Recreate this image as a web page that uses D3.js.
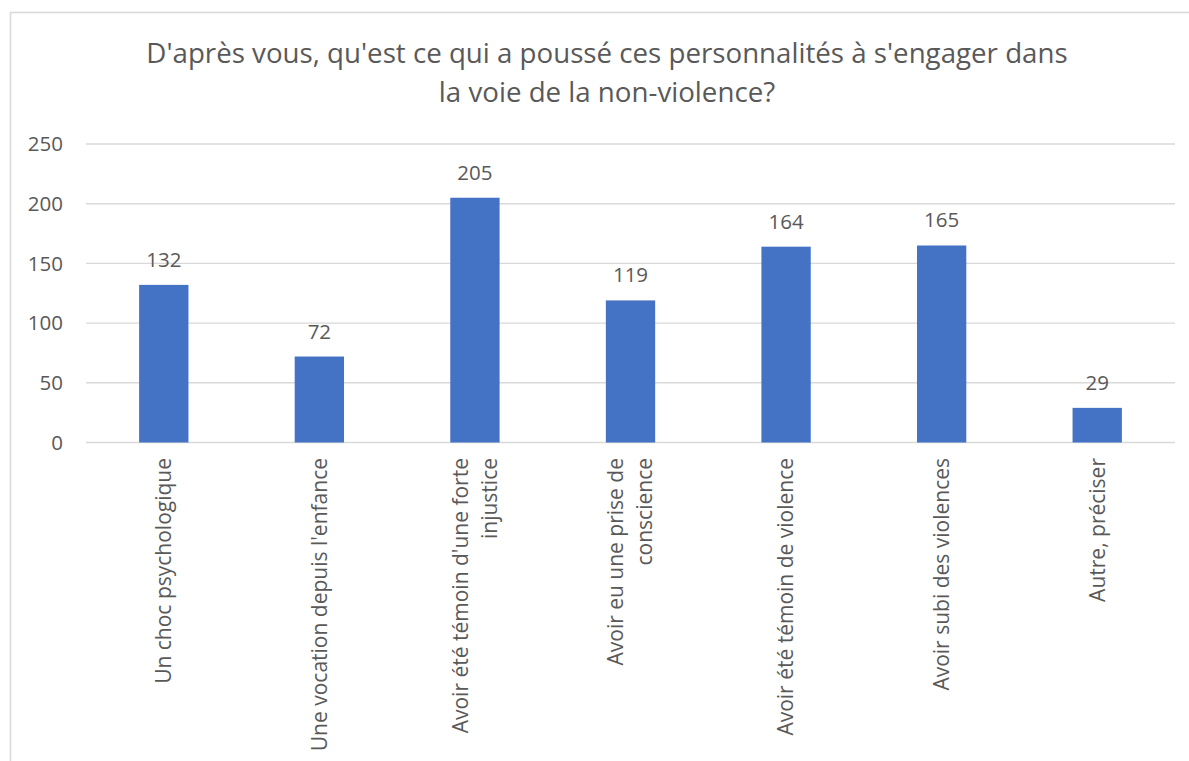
<!DOCTYPE html>
<html>
<head>
<meta charset="utf-8">
<script src="https://cdn.jsdelivr.net/npm/d3@7"></script>
<style>
  html, body { margin: 0; padding: 0; background: #fff; }
  svg { display: block; font-family: "Open Sans", "Noto Sans", sans-serif; }
</style>
</head>
<body>
<script>
const titleLines = ["D'après vous, qu'est ce qui a poussé ces personnalités à s'engager dans", "la voie de la non-violence?"];
const categories = [
  ["Un choc psychologique"],
  ["Une vocation depuis l'enfance"],
  ["Avoir été témoin d'une forte", "injustice"],
  ["Avoir eu une prise de", "conscience"],
  ["Avoir été témoin de violence"],
  ["Avoir subi des violences"],
  ["Autre, préciser"]
];
const values = [132, 72, 205, 119, 164, 165, 29];
const yTicks = [0, 50, 100, 150, 200, 250];

const W = 1189, H = 761;
const textColor = "#595959";
const gridColor = "#D9D9D9";
const barColor = "#4472C4";

const svg = d3.select("body").append("svg").attr("width", W).attr("height", H);

// chart border (extends past right/bottom edge)
svg.append("rect")
  .attr("x", 10.5).attr("y", 12.5)
  .attr("width", 1200).attr("height", 800)
  .attr("fill", "none").attr("stroke", gridColor).attr("stroke-width", 1.6);

// title
svg.append("text")
  .attr("text-anchor", "middle")
  .attr("fill", textColor)
  .style("font-size", "27.7px")
  .selectAll("tspan").data(titleLines).join("tspan")
  .attr("x", 607)
  .attr("y", (d, i) => 63 + i * 39)
  .text(d => d);

const x = d3.scaleBand().domain(d3.range(categories.length)).range([86, 1175]).padding(0);
const y = d3.scaleLinear().domain([0, 250]).range([442.5, 144]);
const barW = x.bandwidth() * 0.317;

// gridlines
svg.append("g").selectAll("line").data(yTicks).join("line")
  .attr("x1", 86).attr("x2", 1175)
  .attr("y1", d => y(d)).attr("y2", d => y(d))
  .attr("stroke", gridColor).attr("stroke-width", 1.4);

// y tick labels
svg.append("g").selectAll("text").data(yTicks).join("text")
  .attr("x", 63).attr("y", d => y(d)).attr("dy", "0.36em")
  .attr("text-anchor", "end").attr("fill", textColor)
  .style("font-size", "20.5px")
  .text(d => d);

// bars
svg.append("g").selectAll("rect").data(values).join("rect")
  .attr("x", (d, i) => x(i) + x.bandwidth() / 2 - barW / 2)
  .attr("y", d => y(d))
  .attr("width", barW)
  .attr("height", d => y(0) - y(d))
  .attr("fill", barColor);

// data labels
svg.append("g").selectAll("text").data(values).join("text")
  .attr("x", (d, i) => x(i) + x.bandwidth() / 2)
  .attr("y", d => y(d) - 18)
  .attr("text-anchor", "middle").attr("fill", textColor)
  .style("font-size", "20.5px")
  .text(d => d);

// category labels (rotated)
const lineH = 29;
const catG = svg.append("g").selectAll("text").data(categories).join("text")
  .attr("transform", (d, i) => `translate(${x(i) + x.bandwidth() / 2},458) rotate(-90)`)
  .attr("text-anchor", "end").attr("fill", textColor)
  .style("font-size", "21px");
catG.selectAll("tspan").data(d => d.map((t, j) => ({ t, j, n: d.length }))).join("tspan")
  .attr("x", 0)
  .attr("y", d => (d.j - (d.n - 1) / 2) * lineH)
  .attr("dy", "0.35em")
  .text(d => d.t);
</script>
</body>
</html>
